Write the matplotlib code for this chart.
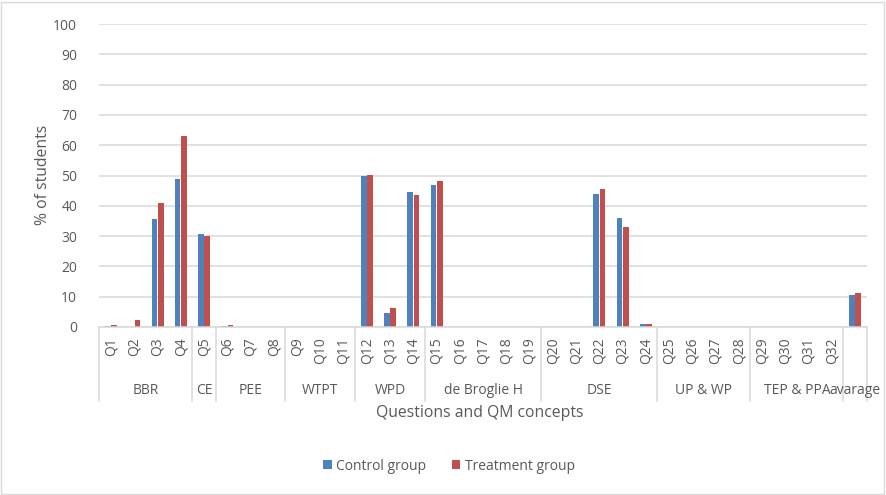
import matplotlib as mpl
import matplotlib.pyplot as plt
import numpy as np
from matplotlib.transforms import blended_transform_factory

mpl.use("Agg")

questions = [f"Q{i}" for i in range(1, 33)] + [""]
control = [0.4, 0, 35.5, 48.9, 30.6, 0.4, 0, 0, 0, 0, 0, 49.9, 4.7, 44.6, 46.9,
           0, 0, 0, 0, 0, 0, 43.9, 36.0, 1.0, 0, 0, 0, 0, 0, 0, 0, 0, 10.5]
treatment = [0.8, 2.3, 40.8, 63.2, 30.0, 0.8, 0, 0, 0, 0, 0, 50.2, 6.2, 43.6, 48.3,
             0, 0, 0, 0, 0, 0, 45.5, 33.0, 0.9, 0, 0, 0, 0, 0, 0, 0, 0, 11.2]
groups = ["BBR", "CE", "PEE", "WTPT", "WPD", "de Broglie H", "DSE",
          "UP & WP", "TEP & PPA", "avarage"]
group_sizes = [4, 1, 3, 3, 3, 5, 5, 4, 4, 1]

BLUE = "#4f81bd"
RED = "#c0504d"
GRID = "#d9d9d9"
TXT = "#595959"
FS = 10.0

plt.rcParams["font.family"] = ["Open Sans", "DejaVu Sans"]

fig = plt.figure(figsize=(8.86, 4.95), dpi=100)
ax = fig.add_axes([99.4 / 886, 168 / 495, 767.3 / 886, 303 / 495])

x = np.arange(len(questions))
w = 0.245
ax.bar(x - 0.135, control, w, color=BLUE, linewidth=0, label="Control group", zorder=2)
ax.bar(x + 0.135, treatment, w, color=RED, linewidth=0, label="Treatment group", zorder=2)

ax.set_xlim(-0.5, len(questions) - 0.5)
ax.set_ylim(0, 100)
ax.set_yticks(range(0, 101, 10))
ax.yaxis.grid(True, color=GRID, linewidth=1.1, zorder=0)
ax.set_xticks([])
ax.tick_params(axis="y", length=0, labelsize=FS, labelcolor=TXT, pad=16)
for s in ("top", "right", "left"):
    ax.spines[s].set_visible(False)
ax.spines["bottom"].set_color(GRID)
ax.spines["bottom"].set_linewidth(1.1)

# two-tier category axis
tr = blended_transform_factory(ax.transData, ax.transAxes)


def fy(py):
    return (327 - py) / 303


for xi, q in zip(x, questions):
    ax.text(xi, fy(337), q, rotation=90, ha="center", va="top",
            fontsize=FS, color=TXT, transform=tr)

start = 0
bounds = [-0.5]
for g, n in zip(groups, group_sizes):
    c = start + (n - 1) / 2
    ax.text(c, fy(390), g, ha="center", va="center", fontsize=FS,
            color=TXT, transform=tr)
    start += n
    bounds.append(start - 0.5)
for b in bounds:
    ax.plot([b, b], [0, fy(401)], color=GRID, linewidth=1.1,
            transform=tr, clip_on=False)

fig.text(43 / 886, 1 - 175 / 495, "% of students", rotation=90, ha="center",
         va="center", fontsize=11.3, color=TXT)
fig.text(480 / 886, 1 - 413 / 495, "Questions and QM concepts", ha="center",
         va="center", fontsize=11.3, color=TXT)

fig.legend(loc="center", bbox_to_anchor=(449 / 886, 1 - 466 / 495), ncol=2,
           frameon=False, fontsize=FS, handlelength=0.6, handleheight=0.6,
           columnspacing=1.8, handletextpad=0.35, labelcolor=TXT)

fig.patches.append(plt.Rectangle((1 / 886, 1 / 495), 883 / 886, 492 / 495,
                                 transform=fig.transFigure, fill=False,
                                 edgecolor=GRID, linewidth=1))

fig.savefig("out.png", dpi=100)
